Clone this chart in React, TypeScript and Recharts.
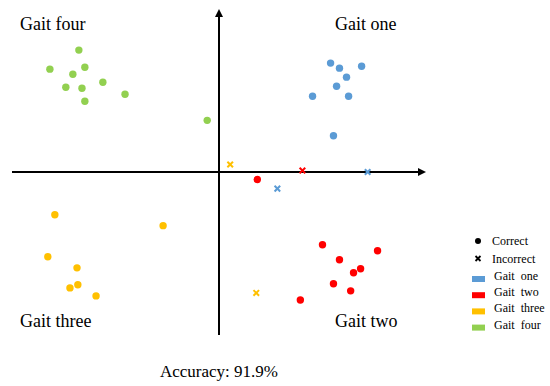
import { ScatterChart, Scatter, XAxis, YAxis, ReferenceLine } from 'recharts';

const gaitNames = ['Gait one', 'Gait two', 'Gait three', 'Gait four'];
const gaitColors = ['#5B9BD5', '#FF0000', '#FFC000', '#92D050'];
const accuracyText = 'Accuracy: 91.9%';

// quadrant coordinates, both axes run -10..10
const oneCorrect = [
  { x: 5.39, y: 6.68 }, { x: 5.82, y: 6.37 }, { x: 6.89, y: 6.49 }, { x: 6.16, y: 5.82 },
  { x: 5.68, y: 5.26 }, { x: 4.52, y: 4.65 }, { x: 6.26, y: 4.65 }, { x: 5.53, y: 2.22 },
];
const oneIncorrect = [{ x: 7.18, y: 0 }, { x: 2.82, y: -1.02 }];

const twoCorrect = [
  { x: 1.85, y: -0.46 }, { x: 5.0, y: -4.46 }, { x: 7.66, y: -4.83 }, { x: 5.82, y: -5.38 },
  { x: 6.84, y: -5.94 }, { x: 6.5, y: -6.18 }, { x: 5.53, y: -6.86 }, { x: 6.36, y: -7.29 },
  { x: 3.93, y: -7.85 },
];
const twoIncorrect = [{ x: 4.03, y: 0.09 }];

const threeCorrect = [
  { x: -7.93, y: -2.62 }, { x: -2.7, y: -3.29 }, { x: -8.27, y: -5.2 }, { x: -6.86, y: -5.88 },
  { x: -6.82, y: -6.92 }, { x: -7.2, y: -7.11 }, { x: -5.94, y: -7.6 },
];
const threeIncorrect = [{ x: 0.54, y: 0.46 }, { x: 1.8, y: -7.42 }];

const fourCorrect = [
  { x: -6.77, y: 7.48 }, { x: -8.17, y: 6.31 }, { x: -6.48, y: 6.43 }, { x: -7.06, y: 6.0 },
  { x: -5.61, y: 5.51 }, { x: -7.4, y: 5.2 }, { x: -6.62, y: 5.14 }, { x: -6.48, y: 4.34 },
  { x: -4.54, y: 4.77 }, { x: -0.57, y: 3.17 },
];
const fourIncorrect: { x: number; y: number }[] = [];

const correctSets = [oneCorrect, twoCorrect, threeCorrect, fourCorrect];
const incorrectSets = [oneIncorrect, twoIncorrect, threeIncorrect, fourIncorrect];

const serif = '"Liberation Serif", "Times New Roman", serif';

const dot = (color: string) => (p: any) => <circle cx={p.cx} cy={p.cy} r={3.7} fill={color} />;

const cross = (color: string) => (p: any) => {
  const s = 2.8;
  return (
    <g stroke={color} strokeWidth={2}>
      <line x1={p.cx - s} y1={p.cy - s} x2={p.cx + s} y2={p.cy + s} />
      <line x1={p.cx - s} y1={p.cy + s} x2={p.cx + s} y2={p.cy - s} />
    </g>
  );
};

const hAxis = (p: any) => {
  const { x1, x2, y1 } = p;
  const right = Math.max(x1, x2);
  return (
    <g>
      <line x1={Math.min(x1, x2)} y1={y1} x2={right - 4} y2={y1} stroke="#000" strokeWidth={2} />
      <polygon points={`${right},${y1} ${right - 8},${y1 - 4} ${right - 8},${y1 + 4}`} fill="#000" />
    </g>
  );
};

const vAxis = (p: any) => {
  const { x1, y1, y2 } = p;
  const top = Math.min(y1, y2);
  return (
    <g>
      <line x1={x1} y1={Math.max(y1, y2)} x2={x1} y2={top + 4} stroke="#000" strokeWidth={2} />
      <polygon points={`${x1},${top} ${x1 - 4},${top + 8} ${x1 + 4},${top + 8}`} fill="#000" />
    </g>
  );
};

export default function App() {
  return (
    <div style={{ position: 'absolute', left: 0, top: 0, width: 550, height: 386, background: '#fff' }}>
      <ScatterChart width={550} height={386} margin={{ top: 9, right: 124, bottom: 51, left: 12 }}>
        <XAxis type="number" dataKey="x" domain={[-10, 10]} hide />
        <YAxis type="number" dataKey="y" domain={[-10, 10]} hide />
        <ReferenceLine y={0} shape={hAxis} />
        <ReferenceLine x={0} shape={vAxis} />
        {correctSets.map((d, i) => (
          <Scatter key={'c' + i} name={gaitNames[i]} data={d} shape={dot(gaitColors[i])} isAnimationActive={false} />
        ))}
        {incorrectSets.map((d, i) => (
          <Scatter key={'x' + i} name={gaitNames[i] + ' incorrect'} data={d} shape={cross(gaitColors[i])} isAnimationActive={false} />
        ))}
      </ScatterChart>
      <svg width={550} height={386} style={{ position: 'absolute', left: 0, top: 0, pointerEvents: 'none' }}>
        <g fontFamily={serif} fontSize={18} fill="#000">
          <text x={20} y={30}>Gait four</text>
          <text x={335} y={30}>Gait one</text>
          <text x={20} y={327}>Gait three</text>
          <text x={335} y={327}>Gait two</text>
          <text x={160} y={377} fontSize={17}>{accuracyText}</text>
        </g>
        <g fontFamily={serif} fontSize={12} fill="#000">
          <circle cx={478} cy={241} r={3} fill="#000" />
          <text x={492} y={245}>Correct</text>
          <g stroke="#000" strokeWidth={1.8}>
            <line x1={475.5} y1={256} x2={480.5} y2={261} />
            <line x1={475.5} y1={261} x2={480.5} y2={256} />
          </g>
          <text x={492} y={262.5}>Incorrect</text>
          {gaitNames.map((n, i) => (
            <g key={n}>
              <rect x={472} y={276 + i * 16.2} width={13} height={6} fill={gaitColors[i]} />
              <text x={494} y={280 + i * 16.2} style={{ whiteSpace: 'pre' }}>{n.replace(' ', '  ')}</text>
            </g>
          ))}
        </g>
      </svg>
    </div>
  );
}
